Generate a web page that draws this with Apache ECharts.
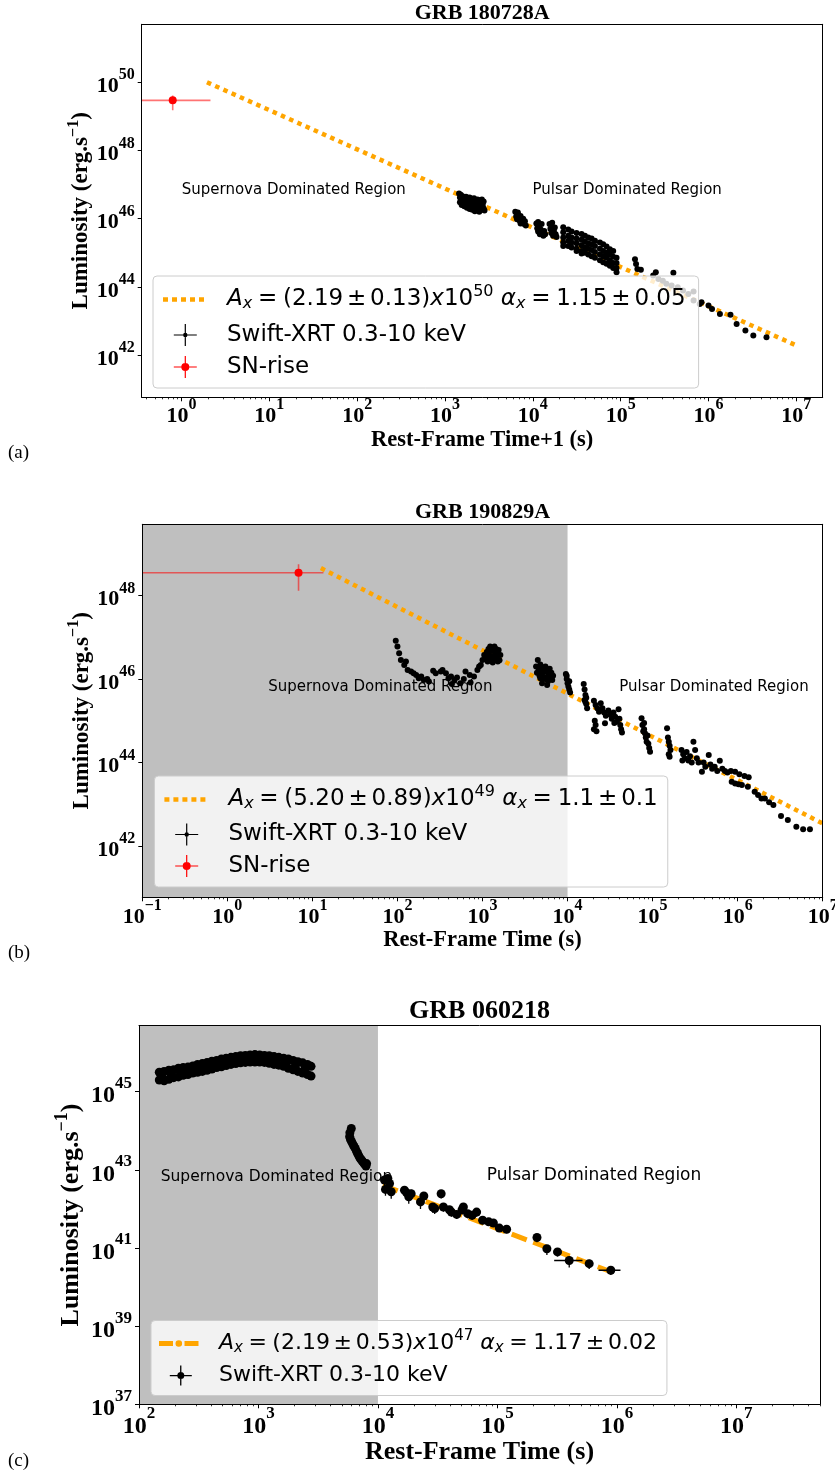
<!DOCTYPE html>
<html><head><meta charset="utf-8">
<script src="https://cdn.jsdelivr.net/npm/echarts@6/dist/echarts.min.js"></script>
<style>html,body{margin:0;padding:0;background:#fff}#c{width:835px;height:1473px}</style>
</head><body><div id="c"></div>
<script>
// ===== Axis ranges (log10 units) and tick exponents =====
const xRangeA = [-0.453, 7.30], yRangeA = [40.76, 51.70];
const xRangeB = [-1, 7],        yRangeB = [40.77, 49.71];
const xRangeC = [2, 7.70],      yRangeC = [37, 46.69];
const xTicksA = [0,1,2,3,4,5,6,7],    yTicksA = [42,44,46,48,50];
const xTicksB = [-1,0,1,2,3,4,5,6,7], yTicksB = [42,44,46,48];
const xTicksC = [2,3,4,5,6,7],        yTicksC = [37,39,41,43,45];
// shaded "supernova" regions (log10 time)
const shadeB = [-1, 4];
const shadeC = [2, 4];

// ===== Fit lines (end points, [log10 t, log10 L]) =====
const fitA = [[0.29, 50.00], [7.00, 42.28]];
const fitB = [[1.10, 48.66], [7.00, 42.54]];
const fitC = [[4.04, 42.61], [5.96, 40.38]];
const fitParamsA = ['2.19', '0.13', '50', '1.15', '0.05'];
const fitParamsB = ['5.20', '0.89', '49', '1.1', '0.1'];
const fitParamsC = ['2.19', '0.53', '47', '1.17', '0.02'];

// ===== SN-rise points: [log t, log L, log L low, log L high, log t low, log t high] =====
const snA = [[-0.10, 49.47, 49.18, 49.61, -1.5, 0.33]];
const snB = [[0.837, 48.55, 48.12, 48.75, -2.0, 1.13]];

// ===== Swift-XRT, GRB 180728A  [log t, log L] =====
const xrtA = [
 [3.16,46.74],[3.17,46.62],[3.17,46.48],[3.18,46.70],[3.19,46.55],[3.19,46.40],[3.20,46.66],[3.21,46.50],[3.22,46.36],[3.22,46.60],
 [3.23,46.45],[3.24,46.64],[3.25,46.32],[3.25,46.52],[3.26,46.58],[3.27,46.42],[3.28,46.28],[3.28,46.62],[3.29,46.50],[3.30,46.38],
 [3.31,46.58],[3.31,46.26],[3.32,46.46],[3.33,46.60],[3.34,46.34],[3.34,46.22],[3.35,46.50],[3.36,46.40],[3.37,46.56],[3.37,46.28],
 [3.38,46.44],[3.39,46.20],[3.39,46.54],[3.40,46.36],[3.41,46.48],[3.42,46.26],[3.42,46.56],[3.43,46.40],[3.44,46.30],[3.44,46.50],[3.45,46.24],
 [3.80,46.20],[3.81,46.06],[3.82,46.14],[3.82,45.98],[3.83,46.18],[3.84,46.04],[3.85,45.94],[3.86,46.08],[3.86,45.86],[3.87,45.98],
 [3.88,45.90],[3.89,46.00],[3.90,45.84],[3.91,45.92],[3.92,45.80],
 [4.04,45.86],[4.05,45.72],[4.06,45.90],[4.06,45.62],[4.07,45.78],[4.08,45.54],[4.09,45.68],[4.10,45.84],[4.11,45.58],[4.12,45.50],[4.13,45.64],[4.14,45.54],
 [4.19,45.84],[4.20,45.70],[4.21,45.58],[4.22,45.88],[4.22,45.76],[4.23,45.50],[4.24,45.64],[4.25,45.74],[4.26,45.54],[4.27,45.46],
 [4.346,45.75],[4.346,45.60],[4.346,45.45],[4.346,45.30],[4.346,45.20],
 [4.403,45.68],[4.403,45.50],[4.403,45.35],[4.403,45.20],
 [4.441,45.62],[4.441,45.45],[4.441,45.30],[4.441,45.15],
 [4.498,45.58],[4.498,45.42],[4.498,45.28],[4.498,45.12],[4.498,45.05],
 [4.555,45.55],[4.555,45.38],[4.555,45.22],[4.555,45.05],[4.555,44.98],
 [4.593,45.50],[4.593,45.32],[4.593,45.15],[4.593,45.00],
 [4.631,45.45],[4.631,45.28],[4.631,45.12],[4.631,44.95],
 [4.669,45.42],[4.669,45.25],[4.669,45.08],[4.669,44.90],
 [4.707,45.35],[4.707,45.20],[4.707,45.02],[4.707,44.85],
 [4.764,45.30],[4.764,45.12],[4.764,44.95],[4.764,44.78],
 [4.801,45.25],[4.801,45.05],[4.801,44.90],[4.801,44.72],
 [4.839,45.18],[4.839,45.00],[4.839,44.85],[4.839,44.68],
 [4.877,45.10],[4.877,44.95],[4.877,44.78],[4.877,44.62],
 [4.915,45.05],[4.915,44.88],[4.915,44.70],[4.915,44.55],
 [4.953,44.85],[4.953,44.70],[4.953,44.55],[4.953,44.43],
 [5.163,44.81],[5.175,44.67],[5.19,44.52],[5.23,44.50],[5.40,44.43],[5.60,44.41],
 [5.37,44.33],[5.43,44.23],[5.48,44.18],[5.52,44.09],[5.58,44.04],[5.65,43.99],[5.71,43.89],[5.77,43.79],
 [5.83,43.86],[5.83,43.60],[5.90,43.50],[5.92,43.55],[6.00,43.45],[6.04,43.35],[6.13,43.20],[6.25,43.18],
 [6.32,42.91],[6.42,42.72],[6.51,42.57],[6.66,42.52]
];

// ===== Swift-XRT, GRB 190829A  [log t, log L] =====
const xrtB = [
 [1.98,46.92],[2.00,46.78],[2.02,46.62],[2.04,46.46],[2.08,46.34],[2.10,46.42],[2.12,46.22],[2.16,46.18],[2.19,46.14],[2.22,46.10],
 [2.25,46.02],[2.28,46.06],[2.31,45.98],[2.35,46.00],[2.37,45.94],[2.42,46.20],[2.45,46.14],[2.51,46.18],[2.53,46.22],[2.57,46.14],
 [2.60,46.02],[2.63,46.06],[2.64,45.88],[2.67,45.98],[2.70,46.04],[2.74,45.90],[2.78,46.00],[2.80,46.18],[2.85,46.10],[2.86,45.92],
 [2.90,46.06],[2.94,46.22],[2.96,46.30],[2.98,46.34],[3.00,46.46],[3.02,46.58],
 [3.04,46.50],[3.05,46.65],[3.06,46.42],[3.06,46.60],[3.07,46.72],[3.08,46.58],[3.08,46.45],[3.09,46.78],[3.10,46.48],[3.11,46.68],
 [3.12,46.55],[3.12,46.40],[3.13,46.75],[3.14,46.45],[3.14,46.78],[3.15,46.62],[3.16,46.72],[3.17,46.50],[3.18,46.60],[3.18,46.42],
 [3.19,46.70],[3.20,46.45],[3.21,46.58],
 [3.65,46.46],[3.63,46.30],[3.64,46.15],[3.66,46.25],[3.67,46.08],[3.68,46.35],[3.68,46.02],[3.69,46.20],[3.70,46.10],[3.70,45.90],
 [3.71,46.28],[3.72,46.00],[3.73,46.18],[3.74,46.30],[3.75,46.05],[3.76,46.20],[3.76,45.86],[3.77,45.95],[3.78,46.12],[3.79,46.25],
 [3.80,46.05],[3.81,46.15],[3.82,45.98],[3.83,46.08],
 [3.98,46.12],[3.99,46.00],[3.99,46.08],[4.00,45.90],[4.01,45.82],[4.02,45.75],[4.02,45.95],[4.03,45.68],
 [4.19,45.88],[4.20,45.75],[4.21,45.62],[4.20,45.50],[4.22,45.40],[4.23,45.30],[4.21,45.45],[4.22,45.55],
 [4.31,45.48],[4.33,45.38],[4.35,45.30],[4.37,45.22],[4.32,45.00],[4.33,44.90],[4.31,44.80],[4.34,44.75],
 [4.39,45.42],[4.41,45.30],[4.43,45.20],[4.45,45.12],[4.44,44.94],
 [4.48,45.25],[4.50,45.15],[4.52,45.05],[4.54,45.20],[4.56,45.10],[4.58,44.98],[4.60,45.28],[4.61,45.05],[4.62,44.90],[4.63,44.80],[4.64,44.72],[4.55,44.95],
 [4.87,45.06],[4.88,44.90],[4.89,44.75],[4.90,44.80],[4.90,44.95],[4.91,44.70],[4.92,44.60],[4.93,44.50],[4.94,44.65],[4.95,44.45],[4.96,44.35],[4.97,44.26],
 [5.17,44.82],[5.18,44.60],[5.19,44.50],[5.20,44.40],[5.21,44.30],[5.19,44.20],[5.20,44.14],
 [5.34,44.30],[5.35,44.05],[5.36,44.20],[5.38,44.10],[5.40,44.25],[5.42,44.05],[5.44,44.15],[5.46,44.00],[5.48,44.50],[5.50,44.30],[5.52,44.10],[5.54,44.00],
 [5.58,43.78],[5.60,44.00],[5.62,43.90],[5.66,44.18],[5.68,43.95],[5.70,43.85],[5.73,43.90],[5.76,43.80],[5.79,44.04],[5.82,43.85],[5.85,43.80],[5.88,43.76],
 [5.92,43.80],[5.97,43.78],[6.02,43.72],[6.08,43.68],[6.13,43.65],
 [5.93,43.54],[5.97,43.50],[6.01,43.48],[6.05,43.46],
 [6.12,43.42],[6.20,43.30],[6.24,43.22],[6.28,43.14],[6.32,43.14],[6.37,43.05],[6.42,42.98],[6.51,42.72],[6.59,42.62],[6.69,42.46],[6.77,42.40],[6.85,42.40]
];

// ===== Swift-XRT, GRB 060218 =====
// early plateau band [log t, log L]
const xrtC_band = [
 [2.17,45.50],[2.17,45.30],[2.21,45.52],[2.21,45.28],[2.25,45.55],[2.25,45.32],[2.29,45.56],[2.29,45.36],[2.33,45.60],[2.33,45.38],
 [2.37,45.62],[2.37,45.42],[2.41,45.63],[2.41,45.44],[2.45,45.66],[2.45,45.48],[2.49,45.70],[2.49,45.50],[2.53,45.72],[2.53,45.52],
 [2.57,45.75],[2.57,45.55],[2.61,45.78],[2.61,45.58],[2.65,45.80],[2.65,45.62],[2.69,45.84],[2.69,45.64],[2.73,45.86],[2.73,45.67],
 [2.77,45.88],[2.77,45.70],[2.81,45.90],[2.81,45.72],[2.85,45.92],[2.85,45.74],[2.89,45.93],[2.89,45.75],[2.93,45.94],[2.93,45.76],
 [2.97,45.95],[2.97,45.76],[3.01,45.94],[3.01,45.76],[3.05,45.93],[3.05,45.75],[3.09,45.92],[3.09,45.73],[3.13,45.90],[3.13,45.70],
 [3.17,45.88],[3.17,45.68],[3.21,45.86],[3.21,45.65],[3.25,45.84],[3.25,45.60],[3.29,45.80],[3.29,45.56],[3.33,45.77],[3.33,45.52],
 [3.37,45.74],[3.37,45.48],[3.41,45.70],[3.41,45.44],[3.44,45.65],[3.44,45.40],
 [2.19,45.40],[2.27,45.46],[2.35,45.50],[2.43,45.55],[2.51,45.61],[2.59,45.66],[2.67,45.72],[2.75,45.77],[2.83,45.82],[2.91,45.85],
 [2.99,45.86],[3.07,45.84],[3.15,45.80],[3.23,45.75],[3.31,45.67],[3.39,45.60]
];
// steep decay [log t, log L]
const xrtC_decay = [
 [3.777,44.06],[3.765,43.95],[3.763,43.85],[3.770,43.78],[3.780,43.72],[3.790,43.66],[3.800,43.60],[3.810,43.55],[3.820,43.48],
 [3.830,43.42],[3.840,43.36],[3.850,43.30],[3.860,43.26],[3.870,43.22],[3.880,43.18],[3.890,43.14],[3.900,43.10],[3.905,43.16]
];
// late decay [log t, log L, err down, err up]
const xrtC_late = [
 [4.055,42.74,0.28,0.13],[4.063,42.50,0.16,0.10],[4.083,42.78,0.14,0.10],[4.097,42.65,0.14,0.10],[4.111,42.44,0.18,0.11],
 [4.222,42.48,0.15,0.10],[4.241,42.41,0.15,0.10],[4.258,42.31,0.18,0.11],[4.278,42.39,0.14,0.10],[4.356,42.18,0.18,0.11],
 [4.384,42.33,0.13,0.09],[4.459,42.05,0.15,0.10],[4.475,42.01,0.14,0.10],[4.529,42.39,0.12,0.09],[4.548,42.05,0.12,0.09],
 [4.598,41.98,0.12,0.09],[4.615,41.92,0.12,0.09],[4.659,41.86,0.12,0.09],[4.704,41.98,0.12,0.09],[4.715,42.05,0.12,0.09],
 [4.751,41.88,0.12,0.09],[4.788,41.84,0.12,0.09],[4.826,41.92,0.12,0.09],[4.876,41.71,0.10,0.08],[4.927,41.67,0.10,0.08],
 [4.966,41.64,0.10,0.08],[5.016,41.51,0.10,0.08],[5.077,41.48,0.10,0.08],[5.331,41.27,0.12,0.09],[5.414,40.98,0.16,0.10],
 [5.503,40.90,0.12,0.09],[5.601,40.68,0.18,0.11],[5.768,40.60,0.14,0.10],[5.949,40.43,0.12,0.09]
];
// horizontal error bars [log t, log L, log t low, log t high]
const xrtC_xerr = [[5.601,40.68,5.475,5.712],[5.949,40.43,5.846,6.03]];

// ===== styling constants =====
const ORANGE = '#ffa500';
const SHADE = '#bfbfbf';
const XRT = 'Swift-XRT 0.3-10 keV';
const SERIF = 'Liberation Serif';
const SANS = 'DejaVu Sans';

function expText(v){ const n = Math.round(v); return n < 0 ? '\u2212' + (-n) : String(n); }
function tickFmt(v){ if (Math.abs(v - Math.round(v)) > 1e-6) return ''; return '{m|10}{s|' + expText(v) + '}'; }
function minorVals(r){
  const out = [];
  for (let n = Math.floor(r[0]); n <= Math.ceil(r[1]); n++) {
    for (let k = 2; k <= 9; k++) { const v = n + Math.log10(k); if (v > r[0] && v < r[1]) out.push(+v.toFixed(5)); }
  }
  return out;
}
// "10" sits at the bottom of a tall line, the exponent at its top
function labelRich(fs, sfs, lh){
  return {
    m: {fontFamily: SERIF, fontWeight: 'bold', fontSize: fs, lineHeight: lh, color: '#000', verticalAlign: 'bottom'},
    s: {fontFamily: SERIF, fontWeight: 'bold', fontSize: sfs, lineHeight: lh, color: '#000', verticalAlign: 'top'}
  };
}
const AXLINE = {show: true, onZero: false, lineStyle: {color: '#000', width: 1}};

function xMain(gi, range, ticks, name, nameFs, nameGap, fs, sfs, lh, margin){
  return {type: 'value', gridIndex: gi, position: 'bottom', min: range[0], max: range[1], z: 10,
    axisLine: AXLINE, splitLine: {show: false},
    axisTick: {show: true, inside: false, length: 4, customValues: ticks, lineStyle: {color: '#000', width: 1}},
    axisLabel: {show: true, customValues: ticks, margin: margin, formatter: tickFmt, showMinLabel: true, showMaxLabel: true,
      hideOverlap: false, lineHeight: lh, rich: labelRich(fs, sfs, lh)},
    name: name, nameLocation: 'middle', nameGap: nameGap, nameMoveOverlap: false,
    nameTextStyle: {fontFamily: SERIF, fontWeight: 'bold', fontSize: nameFs, color: '#000'}};
}
function xMinor(gi, range){
  return {type: 'value', gridIndex: gi, position: 'bottom', min: range[0], max: range[1], z: 10,
    axisLine: {show: false, onZero: false}, splitLine: {show: false}, axisLabel: {show: false},
    axisTick: {show: true, inside: false, length: 2, customValues: minorVals(range), lineStyle: {color: '#000', width: 0.8}}};
}
function xTop(gi, range){
  return {type: 'value', gridIndex: gi, position: 'top', min: range[0], max: range[1], z: 10,
    axisLine: AXLINE, splitLine: {show: false}, axisLabel: {show: false}, axisTick: {show: false}};
}
function yMain(gi, range, ticks, nameFs, nameGap, fs, sfs, lh, margin, supPad){
  return {type: 'value', gridIndex: gi, position: 'left', min: range[0], max: range[1], z: 10,
    axisLine: AXLINE, splitLine: {show: false},
    axisTick: {show: true, inside: false, length: 4, customValues: ticks, lineStyle: {color: '#000', width: 1}},
    axisLabel: {show: true, customValues: ticks, margin: margin, formatter: tickFmt, showMinLabel: true, showMaxLabel: true,
      hideOverlap: false, lineHeight: lh, rich: labelRich(fs, sfs, lh)},
    name: 'Luminosity (erg.s{s|\u22121})', nameLocation: 'middle', nameGap: nameGap, nameMoveOverlap: false,
    nameTextStyle: {fontFamily: SERIF, fontWeight: 'bold', fontSize: nameFs, lineHeight: nameFs, color: '#000',
      rich: {s: {fontFamily: SERIF, fontWeight: 'bold', fontSize: Math.round(nameFs*0.7), lineHeight: nameFs, color: '#000', padding: [0,0,supPad,0]}}}};
}
function yRight(gi, range){
  return {type: 'value', gridIndex: gi, position: 'right', min: range[0], max: range[1], z: 10,
    axisLine: AXLINE, splitLine: {show: false}, axisLabel: {show: false}, axisTick: {show: false}};
}

function makeErr(color, width){
  return function(params, api){
    const x = api.value(0), y = api.value(1), ylo = api.value(2), yhi = api.value(3), xlo = api.value(4), xhi = api.value(5);
    const ch = [];
    if (yhi > ylo) { const a = api.coord([x, ylo]), b = api.coord([x, yhi]);
      ch.push({type: 'line', shape: {x1: a[0], y1: a[1], x2: b[0], y2: b[1]}, style: {stroke: color, lineWidth: width}}); }
    if (xhi > xlo) { const a = api.coord([xlo, y]), b = api.coord([xhi, y]);
      ch.push({type: 'line', shape: {x1: a[0], y1: a[1], x2: b[0], y2: b[1]}, style: {stroke: color, lineWidth: width}}); }
    return {type: 'group', children: ch};
  };
}
function makeShade(yr){
  return function(params, api){
    const a = api.coord([api.value(0), yr[1]]), b = api.coord([api.value(1), yr[0]]);
    return {type: 'rect', shape: {x: a[0], y: a[1], width: b[0]-a[0], height: b[1]-a[1]}, style: {fill: SHADE}};
  };
}

// legend icons (path boxes include corner points to fix scaling)
const BOX59 = 'M0,0h0.01v0.01h-0.01z M59,24h-0.01v-0.01h0.01z ';
const BOX55 = 'M0,0h0.01v0.01h-0.01z M55,24h-0.01v-0.01h0.01z ';
const ICON_DOT = 'path://' + BOX59 + 'M0,9.8h5v4.5h-5z M9,9.8h5v4.5h-5z M18,9.8h5v4.5h-5z M27,9.8h5v4.5h-5z M36,9.8h5v4.5h-5z';
const ICON_XRT = 'path://' + BOX59 + 'M10.8,11.4h23v1.2h-23z M21.7,1h1.2v22h-1.2z M20.1,12a2.2,2.2 0 1 1 4.4,0a2.2,2.2 0 1 1 -4.4,0z';
const ICON_SN  = 'path://' + BOX59 + 'M10.8,11.4h23v1.2h-23z M21.7,1h1.2v22h-1.2z M18.3,12a4,4 0 1 1 8,0a4,4 0 1 1 -8,0z';
const ICON_FITC = 'path://' + BOX55 + 'M0,9.6h14v5h-14z M25.5,9.6h14v5h-14z M16.5,12a3.3,3.3 0 1 1 6.6,0a3.3,3.3 0 1 1 -6.6,0z';
const ICON_XRTC = 'path://' + BOX55 + 'M10.8,11.4h22v1.3h-22z M21.1,2h1.3v20h-1.3z M18.3,12a3.5,3.5 0 1 1 7,0a3.5,3.5 0 1 1 -7,0z';

const EQ = '\u2005=\u2005', PM = '\u2006\u00b1\u2006';
function mathLabel(p){
  return '{it|A}{sub|x}' + EQ + '(' + p[0] + PM + p[1] + '){it|x}10{sup|' + p[2] + '} {it|\u03b1}{sub|x}' + EQ + p[3] + PM + p[4];
}
const fitLabels = {fitA: mathLabel(fitParamsA), fitB: mathLabel(fitParamsB), fitC: mathLabel(fitParamsC)};
function legendText(fs){
  return {fontFamily: SANS, fontSize: fs, lineHeight: 24, color: '#000',
    rich: {
      it:  {fontFamily: SANS, fontStyle: 'italic', fontSize: fs, lineHeight: 24, color: '#000'},
      sub: {fontFamily: SANS, fontStyle: 'italic', fontSize: Math.round(fs*0.7), lineHeight: 24, color: '#000', padding: [9,0,0,0]},
      sup: {fontFamily: SANS, fontSize: Math.round(fs*0.7), lineHeight: 24, color: '#000', padding: [0,0,15,0]}
    }};
}
function legendBox(left, top, pad, gap, iw, fs, data){
  return {left: left, top: top, orient: 'vertical', padding: pad, itemGap: gap, itemWidth: iw, itemHeight: 24,
    backgroundColor: 'rgba(255,255,255,0.8)', borderColor: '#cccccc', borderWidth: 1, borderRadius: 4,
    selectedMode: false, z: 6, data: data, formatter: n => fitLabels[n] || n, textStyle: legendText(fs)};
}
const DOT = {color: '#000', opacity: 1};

const option = {
  animation: false,
  grid: [
    {left: 141.7, top: 24.3, width: 681, height: 373, containLabel: false, outerBoundsMode: 'none'},
    {left: 142.3, top: 524.3, width: 680.4, height: 373, containLabel: false, outerBoundsMode: 'none'},
    {left: 139, top: 1025.7, width: 681, height: 378.6, containLabel: false, outerBoundsMode: 'none'}
  ],
  xAxis: [
    xMain(0, xRangeA, xTicksA, 'Rest-Frame Time+1 (s)', 22.5, 31, 22, 16, 30, 0), xMinor(0, xRangeA), xTop(0, xRangeA),
    xMain(1, xRangeB, xTicksB, 'Rest-Frame Time (s)', 22.5, 31, 22, 16, 30, 1), xMinor(1, xRangeB), xTop(1, xRangeB),
    xMain(2, xRangeC, xTicksC, 'Rest-Frame Time (s)', 26, 34.5, 24, 17, 33, 1), xMinor(2, xRangeC), xTop(2, xRangeC)
  ],
  yAxis: [
    yMain(0, yRangeA, yTicksA, 23, 49, 22, 16, 30, 7, 15), yRight(0, yRangeA),
    yMain(1, yRangeB, yTicksB, 23, 49, 22, 16, 30, 7, 15), yRight(1, yRangeB),
    yMain(2, yRangeC, yTicksC, 26, 55, 24, 17, 33, 7, 17), yRight(2, yRangeC)
  ],
  legend: [
    legendBox(153, 276, [8,13,9,10], 8, 59, 23, [
      {name: 'fitA', icon: ICON_DOT, itemStyle: {color: ORANGE}},
      {name: XRT, icon: ICON_XRT, itemStyle: {color: '#000'}},
      {name: 'SN-rise', icon: ICON_SN, itemStyle: {color: '#ff0000'}}]),
    legendBox(154.4, 776, [8,10,9,10], 7.5, 59, 23, [
      {name: 'fitB', icon: ICON_DOT, itemStyle: {color: ORANGE}},
      {name: XRT, icon: ICON_XRT, itemStyle: {color: '#000'}},
      {name: 'SN-rise', icon: ICON_SN, itemStyle: {color: '#ff0000'}}]),
    legendBox(151, 1320.5, [8,10,8,8], 5, 55, 22, [
      {name: 'fitC', icon: ICON_FITC, itemStyle: {color: ORANGE}},
      {name: XRT, icon: ICON_XRTC, itemStyle: {color: '#000'}}])
  ],
  graphic: {elements: [
    {type: 'text', x: 482.2, y: 13, z: 3, style: {text: 'GRB 180728A', font: 'bold 22px "Liberation Serif"', fill: '#000', align: 'center', verticalAlign: 'middle'}},
    {type: 'text', x: 482.5, y: 512.5, z: 3, style: {text: 'GRB 190829A', font: 'bold 22px "Liberation Serif"', fill: '#000', align: 'center', verticalAlign: 'middle'}},
    {type: 'text', x: 479.5, y: 1011.5, z: 3, style: {text: 'GRB 060218', font: 'bold 26px "Liberation Serif"', fill: '#000', align: 'center', verticalAlign: 'middle'}},
    {type: 'text', x: 8, y: 453, z: 3, style: {text: '(a)', font: '19px "Liberation Serif"', fill: '#000', align: 'left', verticalAlign: 'middle'}},
    {type: 'text', x: 8, y: 953, z: 3, style: {text: '(b)', font: '19px "Liberation Serif"', fill: '#000', align: 'left', verticalAlign: 'middle'}},
    {type: 'text', x: 8, y: 1461.5, z: 3, style: {text: '(c)', font: '19px "Liberation Serif"', fill: '#000', align: 'left', verticalAlign: 'middle'}},
    {type: 'text', x: 181.7, y: 190, z: 3, style: {text: 'Supernova Dominated Region', font: '15px "DejaVu Sans"', fill: '#000', align: 'left', verticalAlign: 'middle'}},
    {type: 'text', x: 532.5, y: 190, z: 3, style: {text: 'Pulsar Dominated Region', font: '15px "DejaVu Sans"', fill: '#000', align: 'left', verticalAlign: 'middle'}},
    {type: 'text', x: 268.3, y: 686.7, z: 3, style: {text: 'Supernova Dominated Region', font: '15px "DejaVu Sans"', fill: '#000', align: 'left', verticalAlign: 'middle'}},
    {type: 'text', x: 619.3, y: 686.7, z: 3, style: {text: 'Pulsar Dominated Region', font: '15px "DejaVu Sans"', fill: '#000', align: 'left', verticalAlign: 'middle'}},
    {type: 'text', x: 160.7, y: 1176.5, z: 3, style: {text: 'Supernova Dominated Region', font: '15.5px "DejaVu Sans"', fill: '#000', align: 'left', verticalAlign: 'middle'}},
    {type: 'text', x: 486.7, y: 1175.7, z: 3, style: {text: 'Pulsar Dominated Region', font: '17px "DejaVu Sans"', fill: '#000', align: 'left', verticalAlign: 'middle'}}
  ]},
  series: [
    // ---- panel (a)
    {name: 'fitA', type: 'line', xAxisIndex: 0, yAxisIndex: 0, data: fitA, symbol: 'none', z: 2, clip: true,
      lineStyle: {color: ORANGE, width: 4.5, type: [4.5, 4.5], cap: 'butt'}, itemStyle: {color: ORANGE}},
    {name: XRT, type: 'scatter', xAxisIndex: 0, yAxisIndex: 0, data: xrtA, symbolSize: 6, z: 4, itemStyle: DOT},
    {name: '_snErrA', type: 'custom', xAxisIndex: 0, yAxisIndex: 0, data: snA, renderItem: makeErr('rgba(255,0,0,0.55)', 1.6), clip: true, z: 4},
    {name: 'SN-rise', type: 'scatter', xAxisIndex: 0, yAxisIndex: 0, data: snA.map(d => [d[0], d[1]]), symbolSize: 8, z: 5, itemStyle: {color: '#ff0000', opacity: 1}},
    // ---- panel (b)
    {name: '_shadeB', type: 'custom', xAxisIndex: 3, yAxisIndex: 2, data: [shadeB], renderItem: makeShade(yRangeB), clip: true, z: 1, silent: true},
    {name: 'fitB', type: 'line', xAxisIndex: 3, yAxisIndex: 2, data: fitB, symbol: 'none', z: 2, clip: true,
      lineStyle: {color: ORANGE, width: 4.5, type: [4.5, 4.5], cap: 'butt'}, itemStyle: {color: ORANGE}},
    {name: XRT, type: 'scatter', xAxisIndex: 3, yAxisIndex: 2, data: xrtB, symbolSize: 6, z: 4, itemStyle: DOT},
    {name: '_snErrB', type: 'custom', xAxisIndex: 3, yAxisIndex: 2, data: snB, renderItem: makeErr('rgba(255,0,0,0.55)', 1.6), clip: true, z: 4},
    {name: 'SN-rise', type: 'scatter', xAxisIndex: 3, yAxisIndex: 2, data: snB.map(d => [d[0], d[1]]), symbolSize: 8, z: 5, itemStyle: {color: '#ff0000', opacity: 1}},
    // ---- panel (c)
    {name: '_shadeC', type: 'custom', xAxisIndex: 6, yAxisIndex: 4, data: [shadeC], renderItem: makeShade(yRangeC), clip: true, z: 1, silent: true},
    {name: 'fitC', type: 'line', xAxisIndex: 6, yAxisIndex: 4, data: fitC, symbol: 'none', z: 2, clip: true,
      lineStyle: {color: ORANGE, width: 5, type: [16, 7], cap: 'butt'}, itemStyle: {color: ORANGE}},
    {name: '_errC', type: 'custom', xAxisIndex: 6, yAxisIndex: 4, clip: true, z: 4,
      data: xrtC_late.map(d => [d[0], d[1], d[1]-d[2], d[1]+d[3], d[0], d[0]]), renderItem: makeErr('#000', 1.3)},
    {name: '_xerrC', type: 'custom', xAxisIndex: 6, yAxisIndex: 4, clip: true, z: 4,
      data: xrtC_xerr.map(d => [d[0], d[1], d[1], d[1], d[2], d[3]]), renderItem: makeErr('#000', 1.5)},
    {name: XRT, type: 'scatter', xAxisIndex: 6, yAxisIndex: 4, symbolSize: 9, z: 4, itemStyle: DOT,
      data: xrtC_band.concat(xrtC_decay).concat(xrtC_late.map(d => [d[0], d[1]]))}
  ]
};
const chart = echarts.init(document.getElementById('c'), null, {renderer: 'canvas', width: 835, height: 1473});
chart.setOption(option);
</script>
</body></html>
